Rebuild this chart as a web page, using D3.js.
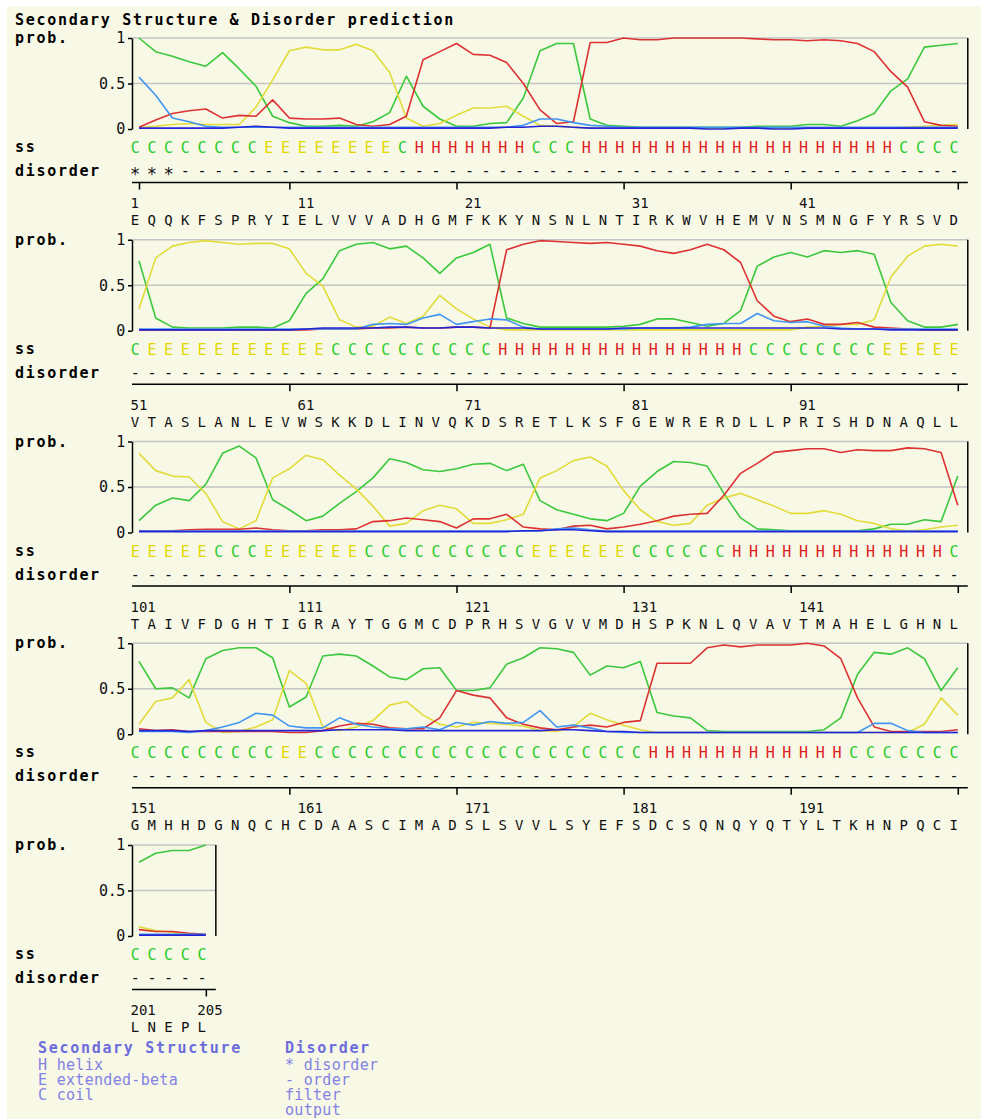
<!DOCTYPE html>
<head>
<meta charset="utf-8">
<style>
body{margin:0;background:#fff;}
text{font-family:"DejaVu Sans Mono",monospace;}
.lbl{font-weight:bold;font-size:15px;letter-spacing:1.7px;fill:#000;}
.mono{font-size:15px;letter-spacing:-0.4px;fill:#111;}
.small{font-size:14px;fill:#111;}
.grid{stroke:#c4c4c4;stroke-width:1.5;}
.prob{fill:none;stroke-width:1.6;stroke-linejoin:round;}
</style>
</head>
<body>
<svg width="987" height="1120"></svg>
<script src="https://cdn.jsdelivr.net/npm/d3@7"></script>
<script type="text/javascript">

// sequence, predicted ss and disorder, one char per residue
var sequence = "EQQKFSPRYIELVVVADHGMFKKYNSNLNTIRKWVHEMVNSMNGFYRSVD" +
               "VTASLANLEVWSKKDLINVQKDSRETLKSFGEWRERDLLPRISHDNAQLL" +
               "TAIVFDGHTIGRAYTGGMCDPRHSVGVVMDHSPKNLQVAVTMAHELGHNL" +
               "GMHHDGNQCHCDAASCIMADSLSVVLSYEFSDCSQNQYQTYLTKHNPQCI" +
               "LNEPL";
var ssPred = "CCCCCCCCEEEEEEEECHHHHHHHCCCHHHHHHHHHHHHHHHHHHHCCCC" +
             "CEEEEEEEEEEECCCCCCCCCCHHHHHHHHHHHHHHHCCCCCCCCEEEEE" +
             "EEEEECCCEEEEEECCCCCCCCCCEEEEEECCCCCCHHHHHHHHHHHHHC" +
             "CCCCCCCCCEECCCCCCCCCCCCCCCCCCCCHHHHHHHHHHHHCCCCCCC" +
             "CCCCC";
var disorderPred = "***-----------------------------------------------" +
                   "--------------------------------------------------" +
                   "--------------------------------------------------" +
                   "--------------------------------------------------" +
                   "-----";

// probabilities per residue
var pCoil = [
1.0,0.85,0.80,0.74,0.69,0.84,0.66,0.47,0.14,0.07,
0.03,0.03,0.04,0.03,0.08,0.18,0.58,0.25,0.11,0.03,
0.03,0.06,0.07,0.34,0.86,0.94,0.94,0.11,0.04,0.03,
0.02,0.02,0.02,0.02,0.02,0.02,0.02,0.03,0.03,0.03,
0.05,0.05,0.03,0.09,0.17,0.42,0.55,0.90,0.92,0.94,
0.77,0.14,0.04,0.03,0.03,0.03,0.04,0.04,0.03,0.11,
0.41,0.57,0.88,0.95,0.97,0.90,0.93,0.80,0.63,0.80,
0.86,0.95,0.14,0.08,0.04,0.04,0.04,0.04,0.04,0.05,
0.07,0.13,0.13,0.09,0.05,0.08,0.22,0.71,0.81,0.86,
0.81,0.88,0.86,0.88,0.84,0.31,0.11,0.04,0.04,0.07,
0.13,0.30,0.38,0.35,0.53,0.87,0.95,0.82,0.36,0.25,
0.13,0.18,0.32,0.45,0.60,0.81,0.77,0.69,0.67,0.70,
0.75,0.76,0.68,0.75,0.35,0.25,0.20,0.15,0.13,0.21,
0.51,0.67,0.78,0.77,0.73,0.43,0.16,0.04,0.03,0.02,
0.02,0.02,0.02,0.02,0.04,0.09,0.09,0.14,0.12,0.62,
0.80,0.50,0.51,0.40,0.83,0.92,0.95,0.95,0.84,0.30,
0.41,0.86,0.88,0.86,0.75,0.63,0.60,0.72,0.73,0.48,
0.48,0.51,0.77,0.84,0.95,0.94,0.90,0.65,0.75,0.73,
0.80,0.24,0.20,0.18,0.04,0.03,0.03,0.03,0.03,0.03,
0.03,0.05,0.18,0.66,0.90,0.88,0.95,0.83,0.48,0.73,
0.81,0.91,0.94,0.94,1.0];

var pStrand = [
0.015,0.03,0.05,0.06,0.05,0.05,0.05,0.24,0.54,0.86,
0.90,0.87,0.87,0.93,0.86,0.62,0.12,0.03,0.06,0.15,
0.23,0.23,0.25,0.14,0.04,0.03,0.02,0.01,0.01,0.01,
0.01,0.01,0.01,0.01,0.01,0.01,0.01,0.01,0.01,0.01,
0.01,0.01,0.01,0.01,0.01,0.01,0.02,0.03,0.04,0.05,
0.24,0.80,0.93,0.97,0.99,0.97,0.95,0.96,0.96,0.90,
0.63,0.49,0.12,0.04,0.05,0.15,0.08,0.16,0.39,0.24,
0.13,0.04,0.01,0.01,0.01,0.01,0.01,0.01,0.01,0.01,
0.01,0.01,0.01,0.01,0.01,0.01,0.01,0.01,0.01,0.01,
0.04,0.05,0.07,0.07,0.12,0.59,0.82,0.93,0.95,0.93,
0.87,0.68,0.62,0.61,0.43,0.12,0.04,0.13,0.60,0.70,
0.85,0.80,0.63,0.48,0.29,0.07,0.10,0.24,0.30,0.26,
0.10,0.10,0.14,0.20,0.60,0.68,0.79,0.83,0.73,0.46,
0.25,0.12,0.08,0.10,0.30,0.38,0.43,0.36,0.29,0.21,
0.21,0.24,0.20,0.13,0.10,0.04,0.02,0.03,0.06,0.08,
0.11,0.36,0.40,0.60,0.13,0.02,0.03,0.08,0.16,0.70,
0.56,0.08,0.04,0.08,0.15,0.32,0.36,0.21,0.11,0.08,
0.13,0.12,0.11,0.09,0.04,0.03,0.08,0.23,0.16,0.10,
0.05,0.02,0.02,0.02,0.02,0.02,0.02,0.02,0.02,0.02,
0.02,0.02,0.02,0.02,0.02,0.02,0.02,0.11,0.40,0.21,
0.10,0.06,0.04,0.02,0.01];

var pHelix = [
0.02,0.10,0.17,0.20,0.22,0.12,0.15,0.14,0.32,0.12,
0.11,0.11,0.12,0.05,0.03,0.05,0.14,0.76,0.85,0.94,
0.82,0.81,0.73,0.50,0.21,0.06,0.08,0.95,0.95,1.0,
0.98,0.98,1.0,1.0,1.0,1.0,1.0,0.99,0.98,0.98,
0.97,0.98,0.97,0.94,0.85,0.63,0.46,0.08,0.04,0.03,
0.01,0.01,0.01,0.01,0.01,0.01,0.01,0.01,0.01,0.01,
0.01,0.02,0.02,0.02,0.03,0.03,0.04,0.03,0.03,0.04,
0.04,0.03,0.89,0.95,0.99,0.98,0.97,0.96,0.97,0.95,
0.93,0.88,0.85,0.89,0.95,0.89,0.75,0.33,0.16,0.10,
0.13,0.07,0.07,0.09,0.04,0.03,0.02,0.01,0.01,0.01,
0.02,0.02,0.02,0.03,0.035,0.035,0.035,0.05,0.03,0.02,
0.02,0.03,0.03,0.04,0.12,0.13,0.16,0.14,0.12,0.05,
0.15,0.15,0.20,0.06,0.04,0.03,0.07,0.08,0.04,0.06,
0.09,0.13,0.18,0.20,0.21,0.41,0.65,0.76,0.88,0.90,
0.92,0.92,0.88,0.91,0.90,0.90,0.93,0.92,0.88,0.30,
0.06,0.04,0.05,0.03,0.03,0.03,0.03,0.03,0.03,0.02,
0.02,0.04,0.09,0.12,0.11,0.07,0.06,0.06,0.18,0.48,
0.43,0.40,0.18,0.11,0.07,0.05,0.08,0.10,0.08,0.13,
0.15,0.78,0.78,0.78,0.95,0.98,0.96,0.98,0.98,0.98,
1.0,0.97,0.83,0.40,0.08,0.03,0.03,0.03,0.03,0.05,
0.07,0.05,0.05,0.03,0.02];

// disorder filter (light blue) and output (dark blue)
var pFilter = [
0.57,0.37,0.12,0.08,0.03,0.02,0.02,0.02,0.02,0.02,
0.02,0.02,0.02,0.02,0.02,0.02,0.02,0.02,0.02,0.02,
0.02,0.02,0.02,0.04,0.11,0.11,0.07,0.04,0.03,0.02,
0.02,0.02,0.02,0.02,0.02,0.02,0.02,0.02,0.02,0.02,
0.02,0.02,0.02,0.02,0.02,0.02,0.02,0.02,0.02,0.02,
0.02,0.02,0.02,0.02,0.02,0.02,0.02,0.02,0.02,0.02,
0.02,0.02,0.02,0.02,0.07,0.08,0.07,0.14,0.18,0.07,
0.10,0.13,0.12,0.04,0.02,0.02,0.02,0.02,0.02,0.02,
0.03,0.03,0.03,0.04,0.07,0.08,0.08,0.19,0.11,0.09,
0.10,0.05,0.03,0.02,0.02,0.02,0.02,0.02,0.02,0.02,
0.015,0.015,0.015,0.015,0.015,0.015,0.015,0.015,0.015,0.015,
0.015,0.015,0.015,0.015,0.015,0.015,0.015,0.015,0.015,0.015,
0.015,0.015,0.015,0.015,0.02,0.04,0.05,0.03,0.015,0.015,
0.015,0.015,0.015,0.015,0.015,0.015,0.015,0.015,0.015,0.015,
0.015,0.015,0.015,0.015,0.015,0.015,0.015,0.015,0.015,0.015,
0.03,0.03,0.03,0.02,0.04,0.08,0.13,0.23,0.21,0.09,
0.07,0.07,0.18,0.11,0.08,0.06,0.06,0.08,0.05,0.13,
0.10,0.14,0.12,0.13,0.26,0.08,0.10,0.07,0.03,0.02,
0.02,0.02,0.02,0.02,0.02,0.02,0.02,0.02,0.02,0.02,
0.02,0.02,0.02,0.02,0.12,0.12,0.04,0.02,0.02,0.02,
0.02,0.02,0.02,0.02,0.02];

var pOutput = [
0.01,0.01,0.01,0.01,0.01,0.01,0.02,0.03,0.02,0.01,
0.01,0.01,0.01,0.01,0.01,0.01,0.01,0.01,0.01,0.01,
0.01,0.01,0.02,0.02,0.03,0.03,0.02,0.01,0.01,0.01,
0.01,0.01,0.01,0.01,0.00,0.00,0.01,0.01,0.00,0.00,
0.01,0.01,0.01,0.01,0.01,0.01,0.01,0.01,0.01,0.01,
0.01,0.01,0.01,0.01,0.01,0.01,0.01,0.01,0.01,0.01,
0.02,0.03,0.03,0.03,0.03,0.04,0.04,0.03,0.03,0.04,
0.04,0.03,0.03,0.03,0.02,0.02,0.02,0.02,0.02,0.03,
0.03,0.03,0.03,0.03,0.03,0.03,0.03,0.03,0.03,0.03,
0.03,0.03,0.02,0.02,0.02,0.01,0.01,0.01,0.01,0.01,
0.01,0.01,0.01,0.01,0.01,0.01,0.01,0.01,0.01,0.01,
0.01,0.01,0.01,0.01,0.01,0.01,0.01,0.01,0.01,0.01,
0.01,0.01,0.01,0.02,0.02,0.03,0.03,0.02,0.01,0.01,
0.01,0.01,0.01,0.01,0.01,0.01,0.01,0.01,0.01,0.01,
0.01,0.01,0.01,0.01,0.01,0.01,0.01,0.01,0.01,0.01,
0.04,0.04,0.04,0.03,0.04,0.04,0.04,0.04,0.04,0.04,
0.04,0.04,0.05,0.05,0.05,0.05,0.04,0.04,0.04,0.04,
0.04,0.04,0.04,0.04,0.04,0.05,0.05,0.04,0.03,0.03,
0.02,0.02,0.02,0.02,0.02,0.02,0.02,0.02,0.02,0.02,
0.02,0.02,0.02,0.02,0.02,0.02,0.02,0.02,0.02,0.02,
0.01,0.01,0.01,0.01,0.01];

var legendSS = ["H helix", "E extended-beta", "C coil"];
var legendDis = ["* disorder", "- order", "filter", "output"];

var series = [
  {vals: pCoil,   color: "#3cc83c", w: 1.6},
  {vals: pStrand, color: "#e2dc3a", w: 1.6},
  {vals: pHelix,  color: "#dc3232", w: 1.6},
  {vals: pFilter, color: "#4196f2", w: 2.2},
  {vals: pOutput, color: "#2424d6", w: 2}
];
var ssColor = {C: "#2ccc2c", E: "#e0d800", H: "#dc2020"};

var svg = d3.select("svg");
svg.append("rect").attr("x", 7).attr("y", 6).attr("width", 974).attr("height", 1113).attr("fill", "#f8f8e7");

svg.append("text").attr("class", "lbl").attr("x", 15).attr("y", 25)
  .text("Secondary Structure & Disorder prediction");

var step = 16.71, x0 = 139, panelH = 201.75, perRow = 50;
var n = sequence.length;

d3.range(0, n, perRow).forEach(function(s, i){
  var start = s + 1, end = Math.min(s + perRow, n);
  var g = svg.append("g").attr("transform", "translate(0," + (i*panelH) + ")");

  var x = d3.scaleLinear().domain([start, end]).range([x0, x0 + (end-start)*step]);
  var y = d3.scaleLinear().domain([0, 1]).range([129, 38]);
  var right = x(end) + 10;
  var res = d3.range(start, end + 1);

  g.append("text").attr("class", "lbl").attr("x", 15).attr("y", 43).text("prob.");
  g.append("text").attr("class", "lbl").attr("x", 15).attr("y", 152).text("ss");
  g.append("text").attr("class", "lbl").attr("x", 15).attr("y", 176).text("disorder");

  // grid
  g.selectAll(".grid").data([1, 0.5]).enter().append("line")
    .attr("class", "grid")
    .attr("x1", 132).attr("x2", right)
    .attr("y1", y).attr("y2", y);

  // prob lines
  var line = d3.line().x(function(d){ return x(d.r); }).y(function(d){ return y(d.v); });
  series.forEach(function(se){
    g.append("path").attr("class", "prob")
      .attr("stroke", se.color).attr("stroke-width", se.w)
      .attr("d", line(res.map(function(r){ return {r: r, v: se.vals[r-1]}; })));
  });

  // y axis
  var yAxis = g.append("g").attr("transform", "translate(132,0)")
    .call(d3.axisLeft(y).tickValues([0, 0.5, 1]).tickFormat(String)
      .tickSize(4).tickSizeOuter(0).tickPadding(3));
  yAxis.selectAll("path,line").attr("stroke", "#000").attr("stroke-width", 1.5);
  yAxis.selectAll("text").attr("class", "mono").attr("font-family", null).attr("font-size", null);
  g.append("line").attr("x1", right).attr("x2", right).attr("y1", 38).attr("y2", 129)
    .attr("stroke", "#000").attr("stroke-width", 1.5);

  // ss and disorder rows
  g.selectAll(".ss").data(res).enter().append("text")
    .attr("class", "mono").attr("text-anchor", "middle")
    .attr("x", function(r){ return x(r) - 4; }).attr("y", 153)
    .style("fill", function(r){ return ssColor[ssPred[r-1]]; })
    .text(function(r){ return ssPred[r-1]; });
  g.selectAll(".dis").data(res).enter().append("text")
    .attr("class", "mono").attr("text-anchor", "middle")
    .attr("x", function(r){ return x(r) - 4; })
    .attr("y", function(r){ return disorderPred[r-1] === "*" ? 180 : 176; })
    .style("font-size", function(r){ return disorderPred[r-1] === "*" ? "17px" : null; })
    .text(function(r){ return disorderPred[r-1]; });

  // residue axis
  var tv = res.filter(function(r){ return r === 1 || r % 10 === 0 || r === n; });
  var xAxis = g.append("g").attr("transform", "translate(0,182.5)")
    .call(d3.axisBottom(x).tickValues(tv).tickSize(7).tickFormat(""));
  xAxis.select(".domain").remove();
  xAxis.selectAll("line").attr("stroke", "#000").attr("stroke-width", 1.5);
  g.append("line").attr("x1", 132).attr("x2", right).attr("y1", 182.5).attr("y2", 182.5)
    .attr("stroke", "#000").attr("stroke-width", 1.5);

  var lv = res.filter(function(r){ return r % 10 === 1 || r === n; });
  g.selectAll(".num").data(lv).enter().append("text")
    .attr("class", "small").attr("x", function(r){ return x(r) - 8.5; }).attr("y", 208)
    .text(function(r){ return r; });
  g.selectAll(".seq").data(res).enter().append("text")
    .attr("class", "small").attr("text-anchor", "middle")
    .attr("x", function(r){ return x(r) - 4; }).attr("y", 225)
    .text(function(r){ return sequence[r-1]; });
});

// legend
svg.append("text").attr("class", "lbl").attr("x", 38).attr("y", 1053)
  .style("fill", "#6c6cdc").text("Secondary Structure");
svg.selectAll(".lss").data(legendSS).enter().append("text")
  .attr("x", 38).attr("y", function(d, i){ return 1070 + i*15; })
  .style("font-size", "15px").style("letter-spacing", "0.3px").style("fill", "#8282e2")
  .text(String);
svg.append("text").attr("class", "lbl").attr("x", 285).attr("y", 1053)
  .style("fill", "#6c6cdc").text("Disorder");
svg.selectAll(".ldis").data(legendDis).enter().append("text")
  .attr("x", 285).attr("y", function(d, i){ return 1070 + i*15; })
  .style("font-size", "15px").style("letter-spacing", "0.3px").style("fill", "#8282e2")
  .text(String);

</script>
</body>
